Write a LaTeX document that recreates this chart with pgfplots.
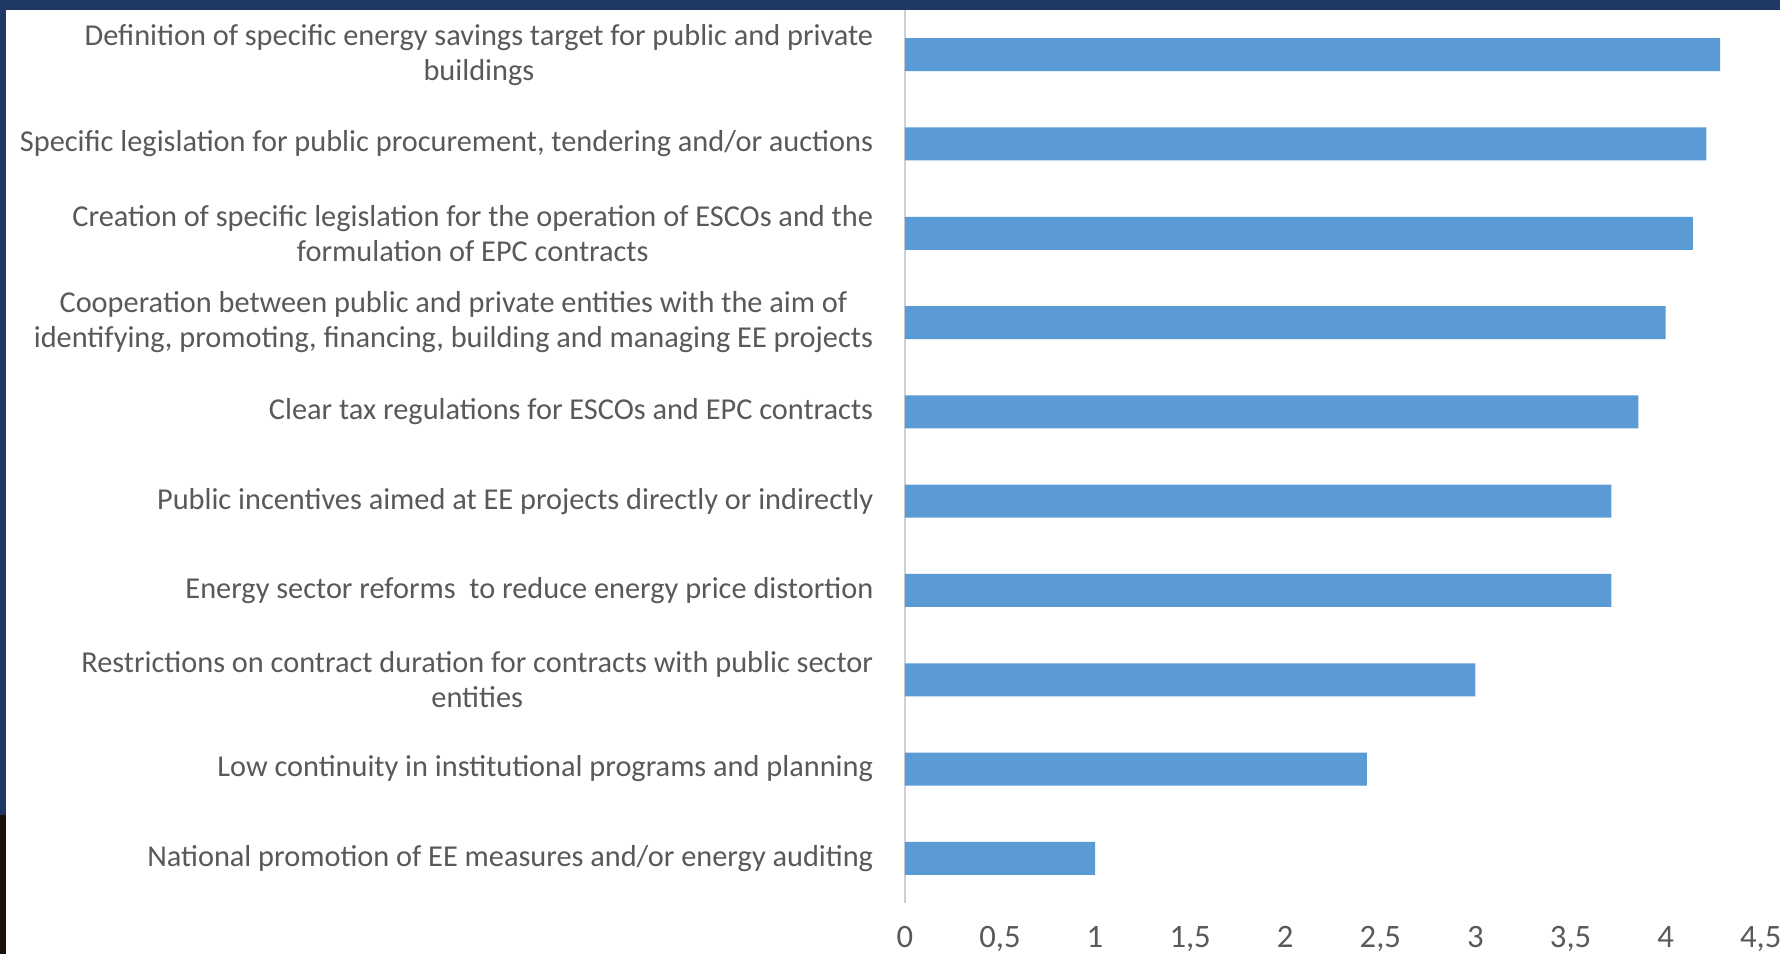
\documentclass[border=0pt]{standalone}
\usepackage{fontspec}
\setmainfont{Carlito}
\usepackage{pgfplots}
\pgfplotsset{compat=1.18}
\definecolor{navy}{HTML}{1F3864}
\definecolor{barblue}{HTML}{5B9BD5}
\definecolor{txtgray}{HTML}{595959}
\definecolor{axgray}{HTML}{D0D0D0}
\definecolor{darkstrip}{HTML}{1A100C}
\begin{document}
\begin{tikzpicture}[x=1pt,y=1pt]
\useasboundingbox (-271.44,-15.3) rectangle (262.56,270.9);
\fill[navy] (-271.44,-15.3) rectangle (262.56,270.9);
\fill[darkstrip] (-271.44,-15.3) rectangle (-269.64,26.4);
\fill[white] (-269.64,-15.3) rectangle (262.56,267.9);
\begin{axis}[
  at={(0,0)}, anchor=south west, scale only axis,
  width=256.8pt, height=267.9pt,
  xbar, bar width=9.9pt,
  xmin=0, xmax=4.5, ymin=-0.5, ymax=9.5, y dir=reverse,
  clip=false,
  axis lines*=left,
  x axis line style={draw=none},
  y axis line style={-, draw=axgray, line width=0.6pt},
  major tick length=0pt, tick style={draw=none},
  xtick={0,0.5,1,1.5,2,2.5,3,3.5,4,4.5},
  xticklabels={0,{0,5},1,{1,5},2,{2,5},3,{3,5},4,{4,5}},
  xticklabel style={font=\fontsize{9.8}{12}\selectfont, text=txtgray, inner sep=0pt, yshift=-6.8pt},
  ytick={0,1,2,3,4,5,6,7,8,9},
  yticklabels={
    {Definition of specific energy savings target for public and private\\buildings},
    {Specific legislation for public procurement, tendering and/or auctions},
    {Creation of specific legislation for the operation of ESCOs and the\\formulation of EPC contracts},
    {Cooperation between public and private entities with the aim of\\identifying, promoting, financing, building and managing EE projects},
    {Clear tax regulations for ESCOs and EPC contracts},
    {Public incentives aimed at EE projects directly or indirectly},
    {Energy sector reforms\ \ to reduce energy price distortion},
    {Restrictions on contract duration for contracts with public sector\\entities},
    {Low continuity in institutional programs and planning},
    {National promotion of EE measures and/or energy auditing}},
  yticklabel style={font=\fontsize{9.1}{10.5}\selectfont, text=txtgray, align=center, inner sep=0pt, xshift=-9.3pt},
]
\addplot[fill=barblue, draw=none] coordinates {
  (4.286,0) (4.214,1) (4.143,2) (4.0,3) (3.857,4)
  (3.714,5) (3.714,6) (3.0,7) (2.429,8) (1.0,9)};
\end{axis}
\end{tikzpicture}
\end{document}
